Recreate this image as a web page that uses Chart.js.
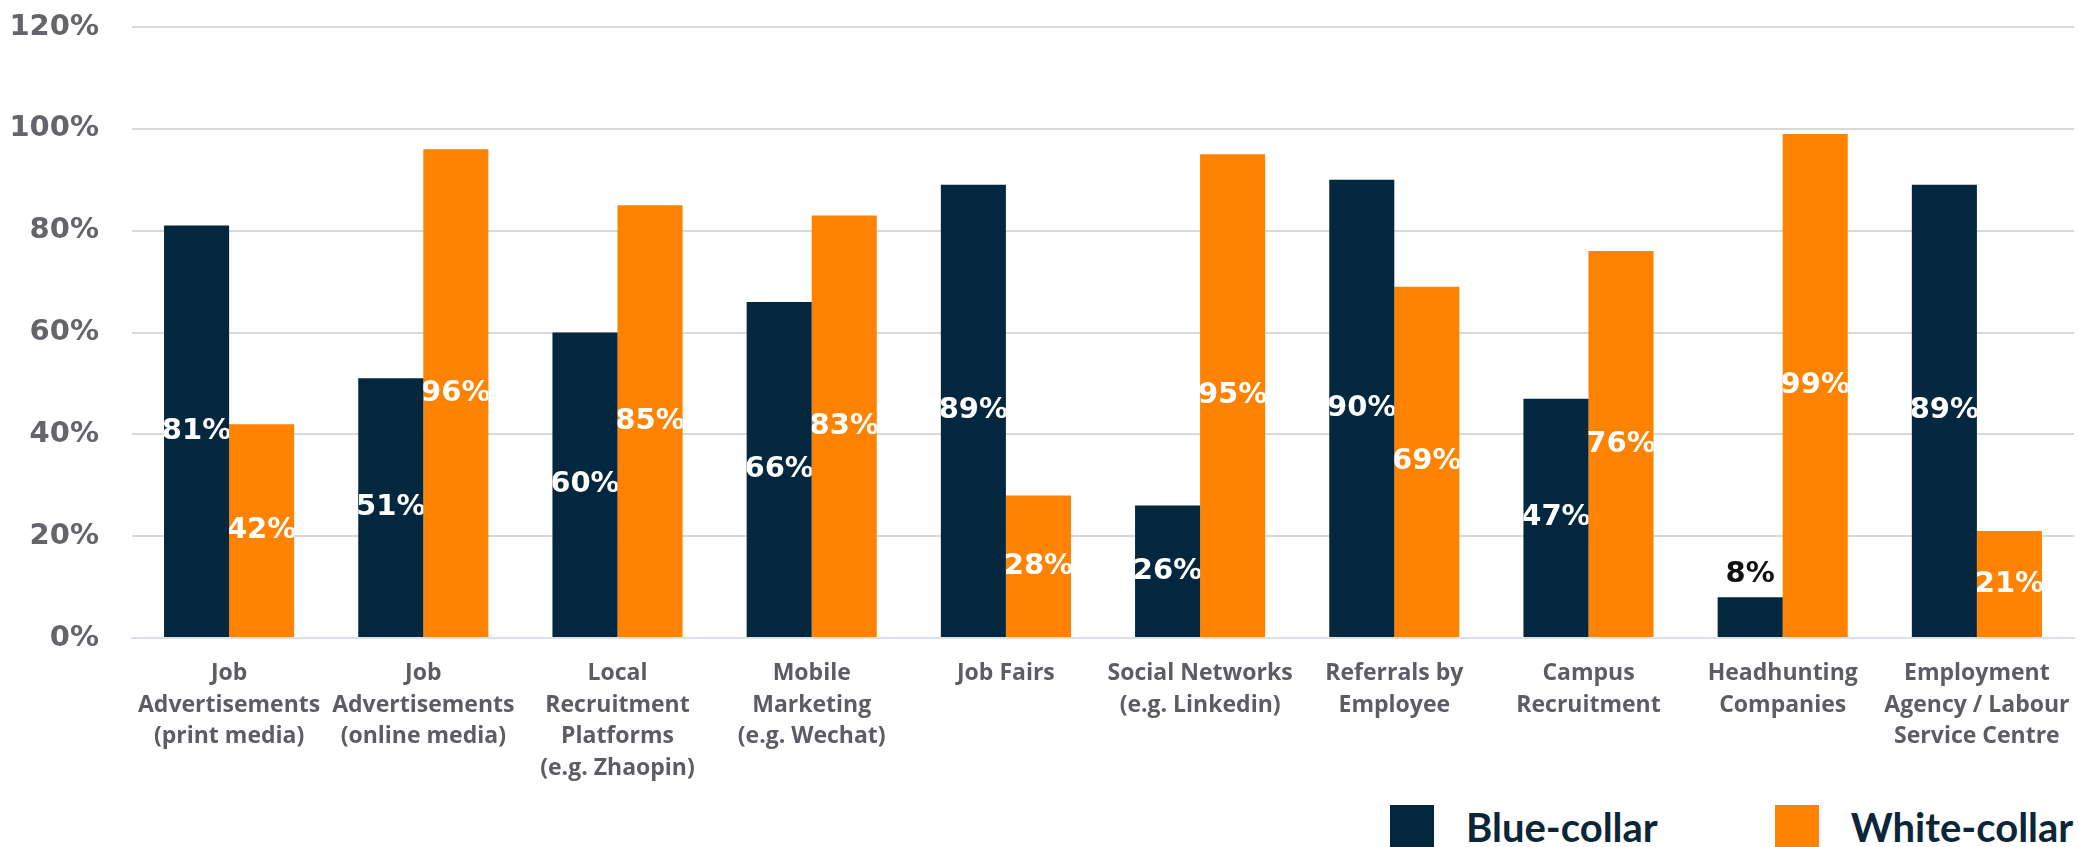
<!DOCTYPE html>
<html lang="en">
<head>
<meta charset="utf-8">
<title>Recruitment channels by collar type</title>
<script src="https://cdn.jsdelivr.net/npm/chart.js@4.4.1/dist/chart.umd.min.js"></script>
<style>
    html, body {
        margin: 0;
        padding: 0;
        width: 2079px;
        height: 847px;
        overflow: hidden;
        background: #ffffff;
    }
    #chart-wrap {
        position: absolute;
        left: 0;
        top: 0;
        width: 2079px;
        height: 800px;
    }
    #legend {
        position: absolute;
        left: 1390px;
        top: 805px;
        display: flex;
        align-items: center;
        font-family: Lato, sans-serif;
        font-weight: 700;
        font-size: 40px;
        line-height: 44px;
        color: #0a2638;
        white-space: nowrap;
    }
    #legend .item {
        display: flex;
        align-items: center;
        margin-right: 117px;
    }
    #legend .swatch {
        width: 44px;
        height: 44px;
        margin-right: 32px;
    }
</style>
</head>
<body>
<div id="chart-wrap"><canvas id="channels"></canvas></div>
<div id="legend"></div>

<script>
// Recruitment channels used for each workforce type (share of companies, %)
const channels = [
    ['Job', 'Advertisements', '(print media)'],
    ['Job', 'Advertisements', '(online media)'],
    ['Local', 'Recruitment', 'Platforms', '(e.g. Zhaopin)'],
    ['Mobile', 'Marketing', '(e.g. Wechat)'],
    ['Job Fairs'],
    ['Social Networks', '(e.g. Linkedin)'],
    ['Referrals by', 'Employee'],
    ['Campus', 'Recruitment'],
    ['Headhunting', 'Companies'],
    ['Employment', 'Agency / Labour', 'Service Centre']
];
const blueCollar = [81, 51, 60, 66, 89, 26, 90, 47, 8, 89];
const whiteCollar = [42, 96, 85, 83, 28, 95, 69, 76, 99, 21];
const yTicks = [0, 20, 40, 60, 80, 100, 120];

const colors = {
    navy: '#03273e',
    orange: '#ff8200',
    grid: '#d9d9d9',
    axis: '#dce1e7',
    tick: '#64656a',
    category: '#5c5d63'
};

/**
 * Value labels centred in each bar and clipped to the bar body.
 * Bars too short to hold a label get it above the bar in black.
 */
const barValueLabels = {
    id: 'barValueLabels',
    afterDatasetsDraw(chart) {
        const ctx = chart.ctx;
        chart.data.datasets.forEach((dataset, i) => {
            const meta = chart.getDatasetMeta(i);
            meta.data.forEach((bar, j) => {
                const value = dataset.data[j];
                const {x, y, base, width} = bar.getProps(['x', 'y', 'base', 'width'], true);
                ctx.save();
                ctx.font = 'bold 29px "DejaVu Sans"';
                ctx.textAlign = 'center';
                ctx.textBaseline = 'middle';
                if (value < 10) {
                    ctx.fillStyle = '#111111';
                    ctx.fillText(value + '%', x, y - 23);
                } else {
                    ctx.beginPath();
                    ctx.rect(x - width / 2, y, width, base - y);
                    ctx.clip();
                    ctx.fillStyle = '#ffffff';
                    ctx.fillText(value + '%', x, (y + base) / 2);
                }
                ctx.restore();
            });
        });
    }
};

function buildLegend(chart) {
    const holder = document.getElementById('legend');
    chart.data.datasets.forEach(ds => {
        const item = document.createElement('div');
        item.className = 'item';
        const swatch = document.createElement('span');
        swatch.className = 'swatch';
        swatch.style.background = ds.backgroundColor;
        const label = document.createElement('span');
        label.textContent = ds.label;
        item.appendChild(swatch);
        item.appendChild(label);
        holder.appendChild(item);
    });
}

function drawChart() {
    const canvas = document.getElementById('channels');
    const chart = new Chart(canvas, {
        type: 'bar',
        data: {
            labels: channels,
            datasets: [{
                label: 'Blue-collar',
                data: blueCollar,
                backgroundColor: colors.navy
            }, {
                label: 'White-collar',
                data: whiteCollar,
                backgroundColor: colors.orange
            }]
        },
        options: {
            responsive: true,
            maintainAspectRatio: false,
            animation: false,
            categoryPercentage: 0.67,
            barPercentage: 1.0,
            layout: {
                padding: {top: 27, right: 5, bottom: 0, left: 0}
            },
            plugins: {
                legend: {display: false},
                tooltip: {enabled: false}
            },
            scales: {
                x: {
                    grid: {display: false, drawTicks: false},
                    border: {display: true, color: colors.axis, width: 2},
                    ticks: {
                        color: colors.category,
                        padding: 20,
                        maxRotation: 0,
                        autoSkip: false,
                        font: {family: '"Open Sans"', weight: 'bold', size: 23, lineHeight: 1.37}
                    },
                    afterFit(scale) {
                        // fixed band for the category names; no side overflow padding
                        scale.height = 162;
                        scale.paddingLeft = 0;
                        scale.paddingRight = 0;
                    }
                },
                y: {
                    min: 0,
                    max: 120,
                    afterBuildTicks(scale) {
                        scale.ticks = yTicks.map(v => ({value: v}));
                    },
                    grid: {color: colors.grid, lineWidth: 2, drawTicks: false},
                    border: {display: false},
                    ticks: {
                        color: colors.tick,
                        padding: 33,
                        font: {family: '"DejaVu Sans"', weight: 'bold', size: 29},
                        callback: v => v + '%'
                    },
                    afterFit(scale) {
                        scale.width = 132;
                        // tick padding would otherwise push the plot top down
                        scale.paddingTop = 0;
                        scale.paddingBottom = 0;
                    }
                }
            }
        },
        plugins: [barValueLabels]
    });
    buildLegend(chart);
}

Promise.all([
    document.fonts.load('bold 23px "Open Sans"'),
    document.fonts.load('bold 29px "DejaVu Sans"'),
    document.fonts.load('bold 40px Lato')
]).catch(() => null).then(drawChart);
</script>
</body>
</html>
